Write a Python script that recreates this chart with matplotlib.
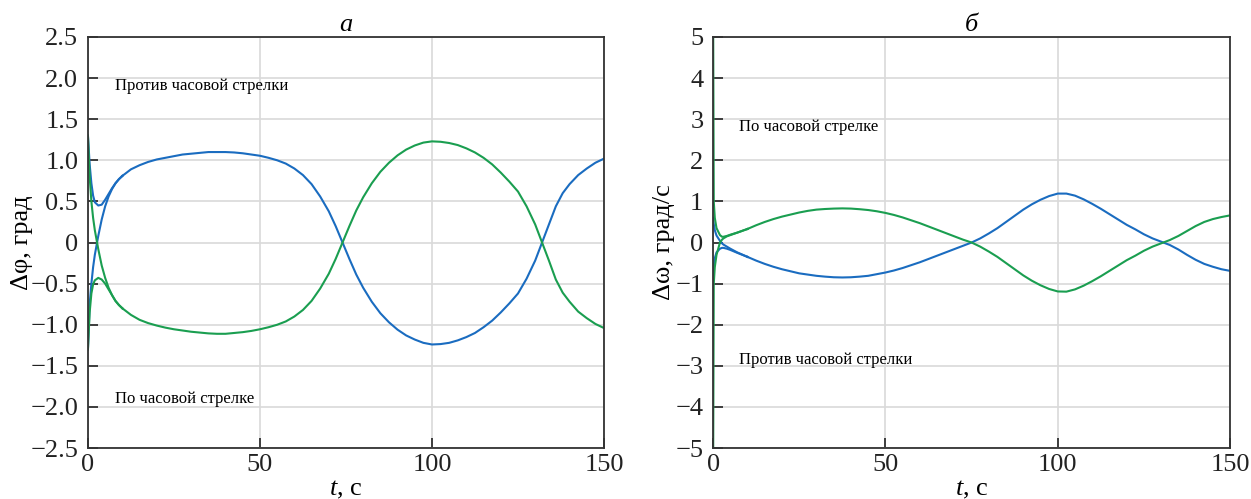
import matplotlib.pyplot as plt
from matplotlib.ticker import FuncFormatter, MultipleLocator

plt.rcParams['font.family'] = ['Liberation Serif', 'DejaVu Serif']
plt.rcParams['mathtext.fontset'] = 'custom'
plt.rcParams['mathtext.it'] = 'Liberation Serif:italic'
plt.rcParams['mathtext.rm'] = 'Liberation Serif'

# ---- panel a: angle deviation, deg ----
t_a_start = [0, 0.5, 1, 1.5, 2, 3, 4, 5, 6, 7, 8, 9, 10]
phi_blue_up = [1.3, 0.95, 0.72, 0.57, 0.49, 0.45, 0.46, 0.52, 0.59, 0.66, 0.72, 0.77, 0.81]
phi_blue_low = [-1.3, -0.75, -0.5, -0.3, -0.15, 0.08, 0.28, 0.44, 0.56, 0.65, 0.72, 0.77, 0.81]
phi_green_up = [1.3, 0.8, 0.5, 0.3, 0.15, -0.08, -0.28, -0.43, -0.55, -0.64, -0.71, -0.76, -0.8]
phi_green_low = [-1.3, -0.85, -0.62, -0.51, -0.46, -0.43, -0.45, -0.5, -0.57, -0.64, -0.71, -0.76, -0.8]

t_a = [10, 12.5, 15, 17.5, 20, 22.5, 25, 27.5, 30, 32.5, 35, 37.5, 40, 42.5, 45, 47.5, 50,
       52.5, 55, 57.5, 60, 62.5, 65, 67.5, 70, 72, 74, 76, 78, 80, 82.5, 85, 87.5, 90, 92.5,
       95, 97.5, 100, 102.5, 105, 107.5, 110, 112.5, 115, 117.5, 120, 122.5, 125, 127.5,
       130, 132, 134, 136, 138, 140, 142.5, 145, 147.5, 150]
phi_blue = [0.81, 0.89, 0.94, 0.98, 1.01, 1.03, 1.05, 1.07, 1.08, 1.09, 1.10, 1.10, 1.10,
            1.095, 1.085, 1.07, 1.055, 1.03, 1.0, 0.96, 0.9, 0.82, 0.71, 0.56, 0.38, 0.2,
            0.0, -0.2, -0.39, -0.55, -0.72, -0.86, -0.97, -1.06, -1.13, -1.18, -1.22, -1.24,
            -1.235, -1.22, -1.19, -1.15, -1.1, -1.03, -0.95, -0.85, -0.74, -0.62, -0.44,
            -0.22, 0.0, 0.22, 0.44, 0.6, 0.71, 0.82, 0.9, 0.97, 1.02]
phi_green = [-0.8, -0.88, -0.94, -0.98, -1.01, -1.035, -1.055, -1.07, -1.085, -1.095, -1.105,
             -1.11, -1.11, -1.1, -1.09, -1.075, -1.055, -1.03, -1.0, -0.96, -0.9, -0.82,
             -0.71, -0.56, -0.38, -0.2, 0.0, 0.2, 0.39, 0.55, 0.72, 0.86, 0.97, 1.06, 1.13,
             1.18, 1.215, 1.23, 1.225, 1.21, 1.185, 1.145, 1.095, 1.03, 0.95, 0.85, 0.74,
             0.62, 0.44, 0.22, 0.0, -0.22, -0.45, -0.61, -0.72, -0.84, -0.92, -0.99, -1.04]

# ---- panel b: angular rate deviation, deg/s ----
t_b_start = [0, 0.2, 0.5, 1, 2, 2.6, 3, 4, 5, 7, 10]
om_green_up = [6.0, 1.0, 0.6, 0.35, 0.18, 0.14, 0.14, 0.16, 0.19, 0.24, 0.33]
om_green_low = [-6.0, -1.0, -0.6, -0.3, 0.0, 0.07, 0.1, 0.15, 0.18, 0.24, 0.33]
om_blue_up = [0.6, 0.45, 0.3, 0.17, 0.04, -0.02, -0.05, -0.1, -0.15, -0.24, -0.35]
om_blue_low = [-0.8, -0.55, -0.38, -0.24, -0.15, -0.13, -0.13, -0.15, -0.18, -0.25, -0.35]

t_b = [10, 12.5, 15, 17.5, 20, 22.5, 25, 27.5, 30, 32.5, 35, 37.5, 40, 42.5, 45, 47.5, 50,
       52.5, 55, 57.5, 60, 62.5, 65, 67.5, 70, 72.5, 75, 77.5, 80, 82.5, 85, 87.5, 90, 92.5,
       95, 97.5, 100, 102.5, 105, 107.5, 110, 112.5, 115, 117.5, 120, 122.5, 125, 127.5,
       130, 132.5, 135, 137.5, 140, 142.5, 145, 147.5, 150]
om_blue = [-0.35, -0.44, -0.52, -0.59, -0.65, -0.7, -0.75, -0.78, -0.81, -0.83, -0.845, -0.85,
           -0.845, -0.83, -0.81, -0.77, -0.73, -0.68, -0.62, -0.55, -0.48, -0.4, -0.32, -0.24,
           -0.16, -0.08, 0.0, 0.1, 0.22, 0.35, 0.5, 0.65, 0.8, 0.93, 1.04, 1.13, 1.19, 1.19,
           1.14, 1.05, 0.94, 0.82, 0.69, 0.56, 0.43, 0.32, 0.2, 0.1, 0.02, -0.06, -0.17, -0.3,
           -0.42, -0.52, -0.59, -0.65, -0.69]
om_green = [0.33, 0.42, 0.5, 0.57, 0.63, 0.68, 0.73, 0.77, 0.8, 0.815, 0.825, 0.83, 0.825,
            0.81, 0.79, 0.76, 0.72, 0.67, 0.61, 0.54, 0.47, 0.39, 0.31, 0.23, 0.15, 0.07, 0.0,
            -0.1, -0.22, -0.35, -0.5, -0.65, -0.8, -0.93, -1.04, -1.13, -1.19, -1.195, -1.14,
            -1.05, -0.94, -0.82, -0.69, -0.56, -0.43, -0.32, -0.2, -0.1, -0.02, 0.06, 0.16,
            0.28, 0.4, 0.5, 0.57, 0.62, 0.66]

blue = '#1a6cc0'
green = '#1a9e50'

fig = plt.figure(figsize=(12.51, 4.99), dpi=100)
ax1 = fig.add_axes([0.0703, 0.102, 0.4125, 0.824])
ax2 = fig.add_axes([0.570, 0.102, 0.4133, 0.824])

for ax in (ax1, ax2):
    ax.grid(True, color='#d9d9d9', linewidth=1.2)
    ax.set_axisbelow(True)
    ax.set_xlim(0, 150)
    ax.xaxis.set_major_locator(MultipleLocator(50))
    ax.xaxis.set_major_formatter(FuncFormatter(lambda v, p: '%d' % v))
    ax.tick_params(direction='in', length=7, width=1.2, labelsize=19, colors='#222222',
                   top=False, right=False)
    ax.tick_params(axis='y', pad=7)
    ax.tick_params(axis='x', pad=4)
    for sp in ax.spines.values():
        sp.set_color('#333333')
        sp.set_linewidth(1.3)

# panel a
for ys, c in ((phi_blue_up, blue), (phi_blue_low, blue),
              (phi_green_up, green), (phi_green_low, green)):
    ax1.plot(t_a_start, ys, color=c, lw=1.5)
ax1.plot(t_a, phi_blue, color=blue, lw=1.5)
ax1.plot(t_a, phi_green, color=green, lw=1.5)
ax1.set_ylim(-2.5, 2.5)
ax1.yaxis.set_major_locator(MultipleLocator(0.5))
ax1.yaxis.set_major_formatter(FuncFormatter(lambda v, p: '0' if abs(v) < 1e-9
                                            else ('%.1f' % v).replace('-', '\u2212')))
ax1.set_ylabel('\u0394\u03c6, град', fontsize=19, labelpad=-2)
ax1.set_xlabel('$t$, с', fontsize=19, labelpad=2)
ax1.set_title('а', fontsize=19, style='italic', pad=4)
ax1.text(8, 1.9, 'Против часовой стрелки', fontsize=12, va='center')
ax1.text(8, -1.9, 'По часовой стрелке', fontsize=12, va='center')

# panel b
for ys, c in ((om_blue_up, blue), (om_blue_low, blue),
              (om_green_up, green), (om_green_low, green)):
    ax2.plot(t_b_start, ys, color=c, lw=1.5)
ax2.plot(t_b, om_blue, color=blue, lw=1.5)
ax2.plot(t_b, om_green, color=green, lw=1.5)
ax2.set_ylim(-5, 5)
ax2.yaxis.set_major_locator(MultipleLocator(1))
ax2.yaxis.set_major_formatter(FuncFormatter(lambda v, p: ('%d' % round(v)).replace('-', '\u2212')))
ax2.set_ylabel('\u0394\u03c9, град/с', fontsize=19, labelpad=0)
ax2.set_xlabel('$t$, с', fontsize=19, labelpad=2)
ax2.set_title('б', fontsize=19, style='italic', pad=4)
ax2.text(7.5, 2.8, 'По часовой стрелке', fontsize=12, va='center')
ax2.text(7.5, -2.85, 'Против часовой стрелки', fontsize=12, va='center')

fig.savefig('out.png', dpi=100)
